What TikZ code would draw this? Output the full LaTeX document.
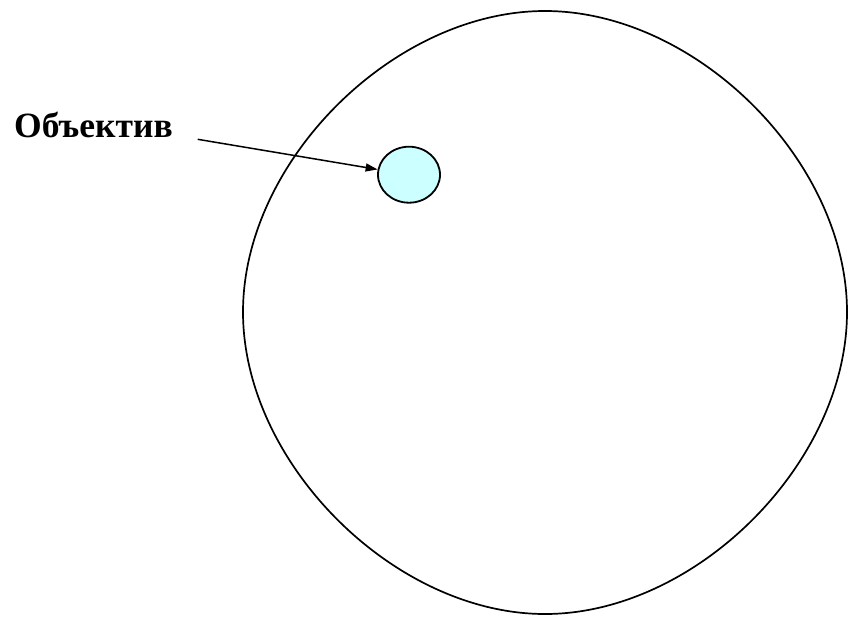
\documentclass[tikz,border=0pt]{standalone}
\usepackage{fontspec}
\setmainfont{Liberation Serif}
\usetikzlibrary{arrows.meta,shapes.geometric}
\definecolor{lenscol}{RGB}{204,255,255}
\begin{document}
\begin{tikzpicture}[x=1pt,y=-1pt,
  blob/.style={draw=black, line width=1.7pt},
  lens/.style={ellipse, draw=black, line width=1.8pt, fill=lenscol, minimum width=62pt, minimum height=56pt, inner sep=0pt},
  lbl/.style={font=\bfseries\fontsize{35.5}{36}\selectfont, inner sep=0pt, anchor=base west},
  pointer/.style={draw=black, line width=1.5pt, -{Triangle[length=12pt,width=8pt]}}]
\useasboundingbox (0,0) rectangle (848,619);
\fill[white] (0,0) rectangle (848,619);
\draw[blob] (243,312) .. controls (243,161) and (394,11) .. (545,11)
  .. controls (696,11) and (847,161) .. (847,312)
  .. controls (847,463) and (696,614) .. (545,614)
  .. controls (394,614) and (243,463) .. (243,312) -- cycle;
\node[lens] (obj) at (409,174.7) {};
\node[lbl] (label) at (14,137.5) {Объектив};
\coordinate (astart) at (197.7,139.3);
\draw[pointer] (astart) -- (obj);
\end{tikzpicture}
\end{document}
